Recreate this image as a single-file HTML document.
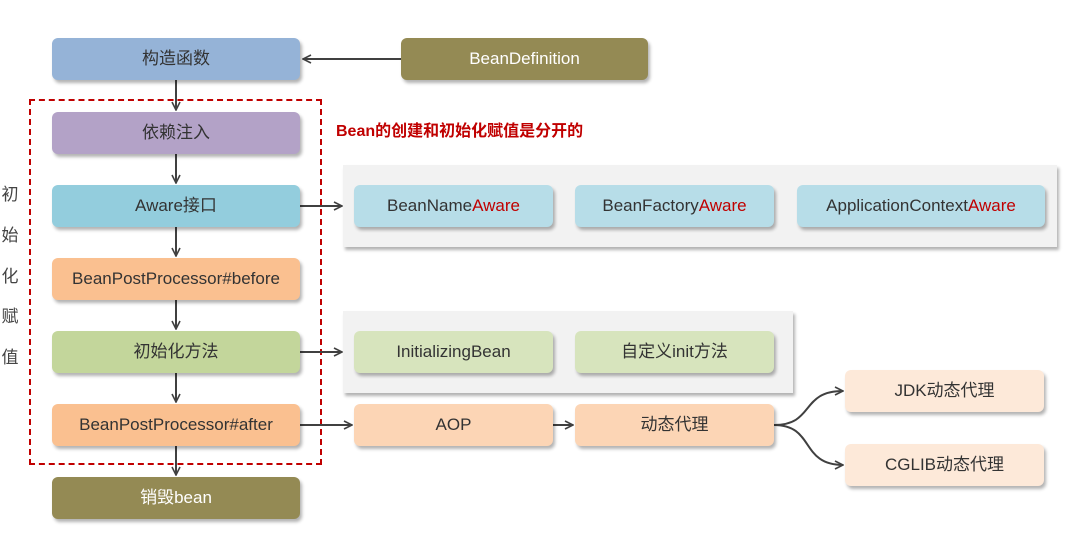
<!DOCTYPE html>
<html><head><meta charset="utf-8"><style>
body{margin:0;width:1083px;height:536px;background:#fff;position:relative;overflow:hidden;font-family:"Liberation Sans","Noto Sans CJK SC",sans-serif}
.b{position:absolute;height:42px;line-height:42px;text-align:center;border-radius:6px;font-size:17px;color:#333;box-shadow:2px 3px 3px rgba(0,0,0,.3)}
.p{position:absolute;background:#f2f2f2;box-shadow:2px 3px 3px rgba(0,0,0,.3)}
.r{color:#c00000}
.v{position:absolute;left:0;width:20px;font-size:17px;color:#444;text-align:center}
</style></head><body>
<div class="p" style="left:343px;top:165px;width:714px;height:82px"></div>
<div class="p" style="left:343px;top:311px;width:450px;height:82px"></div>
<div style="position:absolute;left:29px;top:99px;width:289px;height:362px;border:2px dashed #c00000"></div>
<div style="position:absolute;left:336px;top:117px;font-size:16px;font-weight:bold;color:#c00000">Bean的创建和初始化赋值是分开的</div>
<div class="v" style="top:180px">初</div><div class="v" style="top:221px">始</div><div class="v" style="top:262px">化</div><div class="v" style="top:302px">赋</div><div class="v" style="top:343px">值</div>
<svg style="position:absolute;left:0;top:0" width="1083" height="536">
<defs><marker id="a" markerWidth="10" markerHeight="10" refX="9" refY="5" orient="auto" markerUnits="userSpaceOnUse"><path d="M1,1 L9,5 L1,9" fill="none" stroke="#404040" stroke-width="1.6"/></marker></defs>
<g stroke="#404040" stroke-width="2" fill="none" marker-end="url(#a)">
<line x1="401" y1="59" x2="303" y2="59"/>
<line x1="176" y1="80" x2="176" y2="110"/>
<line x1="176" y1="154" x2="176" y2="183"/>
<line x1="176" y1="227" x2="176" y2="256"/>
<line x1="176" y1="300" x2="176" y2="329"/>
<line x1="176" y1="373" x2="176" y2="402"/>
<line x1="176" y1="446" x2="176" y2="475"/>
<line x1="300" y1="206" x2="342" y2="206"/>
<line x1="300" y1="352" x2="342" y2="352"/>
<line x1="300" y1="425" x2="352" y2="425"/>
<line x1="553" y1="425" x2="573" y2="425"/>
<path d="M774,425 C815,425 800,391 843,391"/>
<path d="M774,425 C815,425 800,465 843,465"/>
</g></svg>
<div class="b" style="left:52px;top:38px;width:248px;background:#95b3d7">构造函数</div>
<div class="b" style="left:401px;top:38px;width:247px;background:#948a54;color:#fff">BeanDefinition</div>
<div class="b" style="left:52px;top:112px;width:248px;background:#b3a2c7">依赖注入</div>
<div class="b" style="left:52px;top:185px;width:248px;background:#93cddd">Aware接口</div>
<div class="b" style="left:52px;top:258px;width:248px;background:#fac090">BeanPostProcessor#before</div>
<div class="b" style="left:52px;top:331px;width:248px;background:#c3d69b">初始化方法</div>
<div class="b" style="left:52px;top:404px;width:248px;background:#fac090">BeanPostProcessor#after</div>
<div class="b" style="left:52px;top:477px;width:248px;background:#948a54;color:#fff">销毁bean</div>
<div class="b" style="left:354px;top:185px;width:199px;background:#b7dde8">BeanName<span class="r">Aware</span></div>
<div class="b" style="left:575px;top:185px;width:199px;background:#b7dde8">BeanFactory<span class="r">Aware</span></div>
<div class="b" style="left:797px;top:185px;width:248px;background:#b7dde8">ApplicationContext<span class="r">Aware</span></div>
<div class="b" style="left:354px;top:331px;width:199px;background:#d7e4bd">InitializingBean</div>
<div class="b" style="left:575px;top:331px;width:199px;background:#d7e4bd">自定义init方法</div>
<div class="b" style="left:354px;top:404px;width:199px;background:#fcd5b5">AOP</div>
<div class="b" style="left:575px;top:404px;width:199px;background:#fcd5b5">动态代理</div>
<div class="b" style="left:845px;top:370px;width:199px;background:#fde9d9">JDK动态代理</div>
<div class="b" style="left:845px;top:444px;width:199px;background:#fde9d9">CGLIB动态代理</div>
</body></html>
